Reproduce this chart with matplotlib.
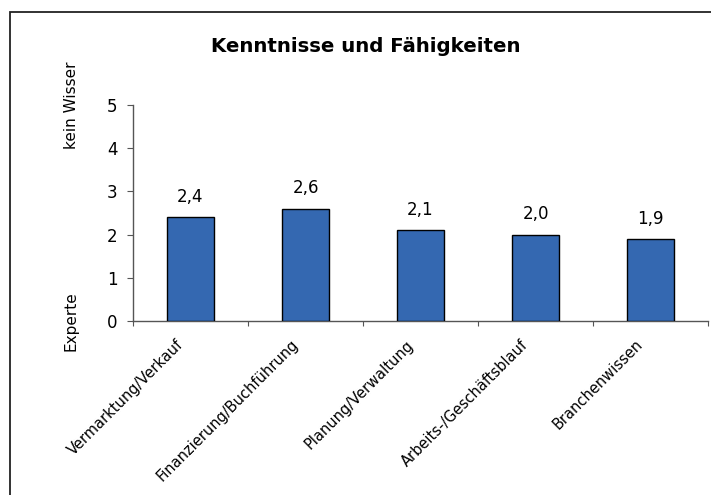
import matplotlib.pyplot as plt
import matplotlib.patches as patches
import matplotlib.transforms as mtransforms
import numpy as np

plt.rcParams['font.family'] = ['DejaVu Sans']

# Daten
kategorien = ['Vermarktung/Verkauf', 'Finanzierung/Buchführung', 'Planung/Verwaltung',
              'Arbeits-/Geschäftsblauf', 'Branchenwissen']
werte = [2.4, 2.6, 2.1, 2.0, 1.9]
werte_text = ['2,4', '2,6', '2,1', '2,0', '1,9']

fig = plt.figure(figsize=(7.11, 4.95), dpi=100)
ax = fig.add_axes([133 / 711, 1 - 321 / 495, 575 / 711, 216 / 495])

x = np.arange(len(kategorien))
ax.bar(x, werte, width=0.41, color='#3468B1', edgecolor='black', linewidth=1, zorder=3)

for xi, v, t in zip(x, werte, werte_text):
    ax.annotate(t, (xi, v), xytext=(0, 11), textcoords='offset points',
                ha='center', va='baseline', fontsize=12)

ax.set_xlim(-0.5, len(kategorien) - 0.5)
ax.set_ylim(0, 5)
ax.set_yticks(range(6))
ax.tick_params(axis='y', labelsize=12, length=4.5, pad=6.5, direction='out', color='#555555')

# X-Ticks an den Kategoriegrenzen, Beschriftung in der Mitte
ax.set_xticks(np.arange(-0.5, len(kategorien)))
ax.set_xticklabels([])
ax.tick_params(axis='x', length=3.5, direction='out', color='#555555')
ax.set_xticks(x, minor=True)
ax.set_xticklabels(kategorien, minor=True, rotation=45, ha='right', va='top',
                   rotation_mode='anchor', fontsize=10.5)
ax.tick_params(axis='x', which='minor', length=0, pad=11.5)
verschiebung = mtransforms.ScaledTranslation(-15 / 100, 0, fig.dpi_scale_trans)
for lab in ax.get_xticklabels(minor=True):
    lab.set_transform(lab.get_transform() + verschiebung)

for s in ['top', 'right']:
    ax.spines[s].set_visible(False)
for s in ['left', 'bottom']:
    ax.spines[s].set_color('#555555')
    ax.spines[s].set_linewidth(1)

xpos = -0.5 - 62 / 115
ax.text(xpos, 5, 'kein Wisser', rotation=90, ha='center', va='center', fontsize=11)
ax.text(xpos, 0, 'Experte', rotation=90, ha='center', va='center', fontsize=11)

fig.text(366 / 711, 1 - 46 / 495, 'Kenntnisse und Fähigkeiten', ha='center', va='center',
         fontsize=14.2, fontweight='bold')

# Rahmen um das Diagramm
rahmen = patches.Rectangle((10 / 711, -0.1), 1.2, 1 - 12 / 495 + 0.1, transform=fig.transFigure,
                           fill=False, edgecolor='#222222', linewidth=1.3, clip_on=False)
fig.patches.append(rahmen)

fig.savefig('out.png', dpi=100)
